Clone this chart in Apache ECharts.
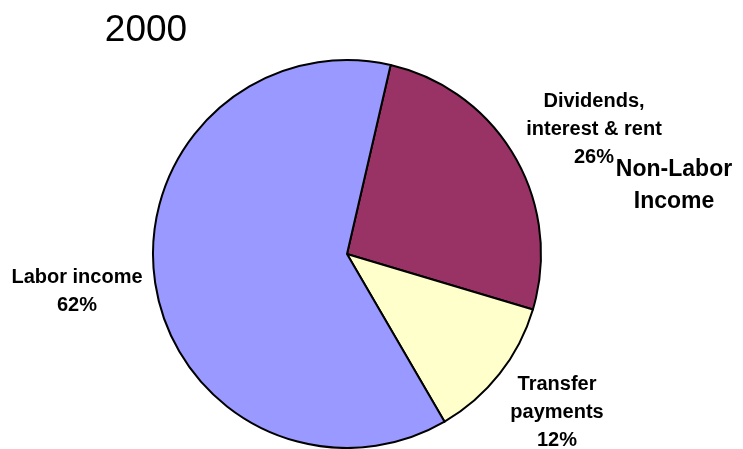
<!DOCTYPE html>
<html>
<head>
<meta charset="utf-8">
<script src="https://cdn.jsdelivr.net/npm/echarts@6/dist/echarts.min.js"></script>
<style>
  html, body { margin: 0; padding: 0; background: #fff; }
  #chart { width: 743px; height: 449px; }
</style>
</head>
<body>
<div id="chart"></div>
<script>
// Income composition, year 2000 (shares of total, %)
const categories = ['Dividends,\ninterest & rent', 'Transfer\npayments', 'Labor income'];
const shares = [26, 12, 62];
const sliceColors = ['#993366', '#FFFFCC', '#9999FF'];
const titleText = '2000';
const groupLabel = 'Non-Labor\nIncome';

// Label anchor points (block centres) for each slice label
const labelAnchors = [[594, 129], [557, 412], [77, 291]];

const chart = echarts.init(document.getElementById('chart'), null, { renderer: 'canvas' });

const data = categories.map((name, i) => ({
  name: name,
  value: shares[i],
  itemStyle: { color: sliceColors[i] }
}));

chart.setOption({
  animation: false,
  backgroundColor: '#ffffff',
  title: {
    text: titleText,
    left: 141,
    top: 26,
    textAlign: 'center',
    textVerticalAlign: 'middle',
    textStyle: {
      fontFamily: 'Liberation Sans, Arial, sans-serif',
      fontSize: 37,
      fontWeight: 'normal',
      color: '#000'
    }
  },
  graphic: [{
    type: 'text',
    x: 674,
    y: 186,
    style: {
      text: groupLabel,
      font: 'bold 23px "Liberation Sans", Arial, sans-serif',
      fill: '#000',
      align: 'center',
      verticalAlign: 'middle',
      lineHeight: 32
    },
    z: 10
  }],
  series: [{
    type: 'pie',
    center: [347, 254],
    radius: 194,
    startAngle: 77,
    clockwise: true,
    data: data,
    itemStyle: { borderColor: '#000', borderWidth: 2 },
    emphasis: { disabled: true },
    labelLine: { show: false },
    label: {
      show: true,
      position: 'outside',
      overflow: 'none',
      formatter: p => p.name + '\n' + Math.round(p.value) + '%',
      fontFamily: 'Liberation Sans, Arial, sans-serif',
      fontWeight: 'bold',
      fontSize: 20,
      lineHeight: 28,
      color: '#000',
      align: 'center'
    },
    labelLayout: function (params) {
      const a = labelAnchors[params.dataIndex];
      return { x: a[0], y: a[1], align: 'center', verticalAlign: 'middle', hideOverlap: false };
    }
  }]
});
</script>
</body>
</html>
